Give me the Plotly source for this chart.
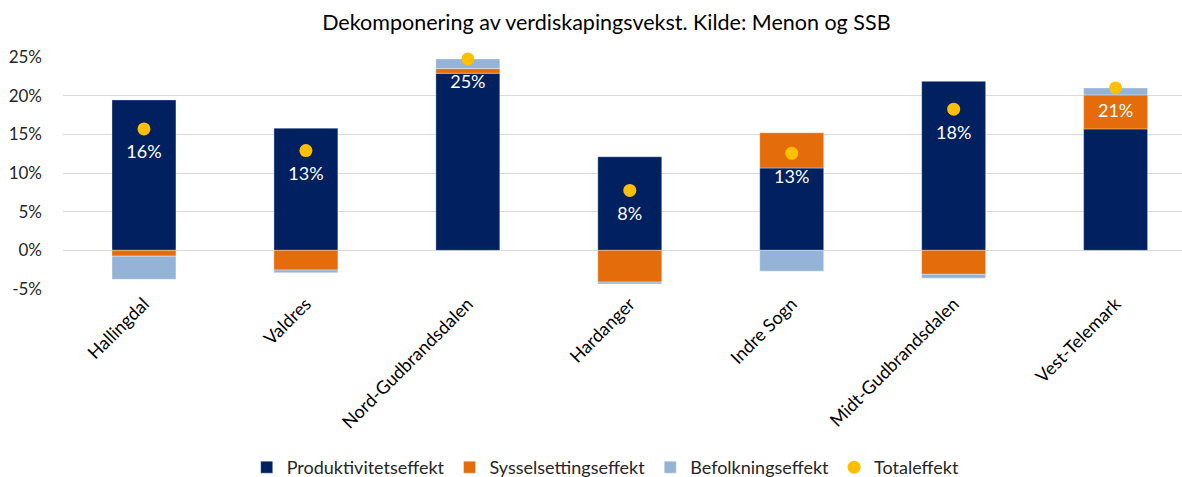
import plotly.graph_objects as go

categories = ["Hallingdal", "Valdres", "Nord-Gudbrandsdalen", "Hardanger",
              "Indre Sogn", "Midt-Gudbrandsdalen", "Vest-Telemark"]
produktivitet = [19.45, 15.8, 22.9, 12.1, 10.65, 21.85, 15.7]
sysselsetting = [-0.75, -2.55, 0.6, -4.1, 4.55, -3.1, 4.4]
befolkning = [-3.0, -0.35, 1.25, -0.25, -2.7, -0.5, 0.9]
totaleffekt = [15.7, 12.9, 24.75, 7.75, 12.55, 18.25, 21.0]
tick_vals = [-5, 0, 5, 10, 15, 20, 25]
tick_text = ["-5%", "0%", "5%", "10%", "15%", "20%", "25%"]

FONT = "Lato, Open Sans, sans-serif"
fig = go.Figure()
bar_line = dict(color="rgba(255,255,255,0.6)", width=0.6)
fig.add_trace(go.Bar(x=categories, y=produktivitet, name="Produktivitetseffekt",
                     marker=dict(color="#002060", line=bar_line), width=0.395))
fig.add_trace(go.Bar(x=categories, y=sysselsetting, name="Sysselsettingseffekt",
                     marker=dict(color="#E46C0A", line=bar_line), width=0.395))
fig.add_trace(go.Bar(x=categories, y=befolkning, name="Befolkningseffekt",
                     marker=dict(color="#95B3D7", line=bar_line), width=0.395))
fig.add_trace(go.Scatter(x=categories, y=totaleffekt, name="Totaleffekt", mode="markers",
                         marker=dict(color="#FFC000", size=13), cliponaxis=False))
fig.add_trace(go.Scatter(x=categories, y=totaleffekt, mode="markers+text", showlegend=False,
                         marker=dict(size=24, opacity=0), cliponaxis=False,
                         text=[f"{round(v):.0f}%" for v in totaleffekt],
                         textposition="bottom center",
                         textfont=dict(color="white", size=18, family=FONT),
                         hoverinfo="skip"))

fig.update_layout(
    barmode="relative",
    width=1182, height=477,
    margin=dict(l=63, r=0, t=57, b=188, autoexpand=False),
    paper_bgcolor="white", plot_bgcolor="white",
    font=dict(family=FONT, size=15, color="#262626"),
    title=dict(text="Dekomponering av verdiskapingsvekst. Kilde: Menon og SSB",
               x=0.513, xanchor="center", y=0.953, yanchor="middle",
               xref="container", yref="container", automargin=False,
               font=dict(size=21.5, color="#000000", family=FONT)),
    xaxis=dict(range=[-0.5, 6.41], tickangle=-45, showgrid=False, showline=False,
               ticks="", automargin=False, tickfont=dict(size=18, color="#000000")),
    yaxis=dict(range=[-5, 25], tickvals=tick_vals, ticktext=tick_text,
               showgrid=True, gridcolor="#D9D9D9", gridwidth=1,
               zeroline=True, zerolinecolor="#D9D9D9", zerolinewidth=1,
               showline=False, ticks="", ticklabelstandoff=20, automargin=False,
               tickfont=dict(size=17, color="#262626")),
    legend=dict(orientation="h", x=0.485, xanchor="center", y=0.02, yanchor="middle",
                yref="container", font=dict(size=18, color="#262626"),
                traceorder="normal", itemwidth=30),
    bargap=0.6,
)

fig.write_html("out.html", config={"displayModeBar": False},
               post_script="document.body.style.margin='0';document.body.style.overflow='hidden';")
